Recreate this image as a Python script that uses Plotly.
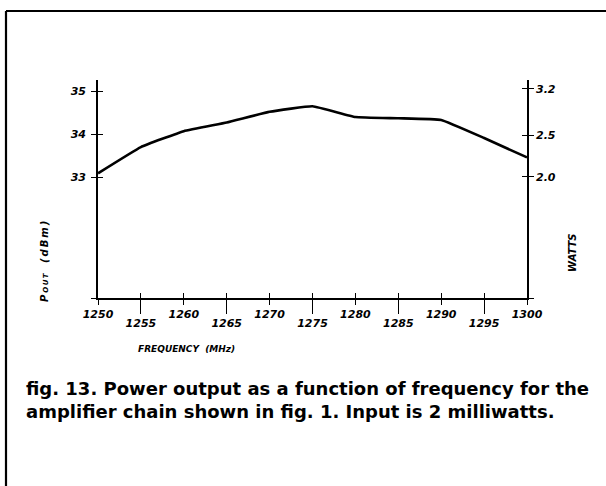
import math
import plotly.graph_objects as go

# Measured output power of the amplifier chain
freq_mhz = [1250, 1255, 1260, 1265, 1270, 1275, 1280, 1285, 1290, 1295, 1300]
pout_dbm = [33.09, 33.70, 34.07, 34.27, 34.52, 34.65, 34.40, 34.37, 34.33, 33.91, 33.46]

# Axis ticks
x_major = [1250, 1260, 1270, 1280, 1290, 1300]
x_minor = [1255, 1265, 1275, 1285, 1295]
dbm_ticks = [33, 34, 35]
watt_ticks = [2.0, 2.5, 3.2]
watt_labels = ["2.0", "2.5", "3.2"]

Y_MIN, Y_MAX = 30.19, 35.26
X_MIN, X_MAX = 1250, 1300


def watts_to_dbm(w):
    return 10 * math.log10(w * 1000.0)


watt_pos = [watts_to_dbm(w) for w in watt_ticks]

TICK_FONT = dict(family="DejaVu Sans", size=11, color="black", style="italic", weight="bold")
TITLE_FONT = dict(family="DejaVu Sans", size=9, color="black", style="italic", weight="bold")

fig = go.Figure()
fig.add_trace(go.Scatter(
    x=freq_mhz, y=pout_dbm, mode="lines",
    line=dict(color="black", width=2.6, shape="spline", smoothing=0.3),
    showlegend=False, hoverinfo="skip",
))
# empty traces so the overlaid tick axes are rendered
for xa, ya in [("x2", "y"), ("x3", "y"), ("x", "y2"), ("x", "y3"), ("x", "y4")]:
    fig.add_trace(go.Scatter(x=[None], y=[None], xaxis=xa, yaxis=ya,
                             showlegend=False, hoverinfo="skip"))

common_x = dict(range=[X_MIN, X_MAX], showgrid=False, zeroline=False)
common_y = dict(range=[Y_MIN, Y_MAX], showgrid=False, zeroline=False)

fig.update_layout(
    width=606, height=486,
    margin=dict(l=98, r=79, t=80, b=188),
    paper_bgcolor="white", plot_bgcolor="white",
    xaxis=dict(**common_x, showline=True, linecolor="black", linewidth=1.6,
               ticks="outside", ticklen=5, tickwidth=1.4, tickcolor="black",
               tickvals=x_major, ticktext=[str(v) for v in x_major],
               tickfont=TICK_FONT),
    xaxis2=dict(**common_x, overlaying="x", anchor="y", side="bottom",
                showline=False, ticks="outside", ticklen=15, tickwidth=1.4,
                tickcolor="black", tickvals=x_minor,
                ticktext=[str(v) for v in x_minor], tickfont=TICK_FONT),
    xaxis3=dict(**common_x, overlaying="x", anchor="y", side="bottom",
                showline=False, ticks="inside", ticklen=5, tickwidth=1.4,
                tickcolor="black", tickvals=x_major + x_minor,
                showticklabels=False),
    yaxis=dict(**common_y, showline=True, linecolor="black", linewidth=1.6,
               ticks="outside", ticklen=5, tickwidth=1.4, tickcolor="black",
               tickvals=dbm_ticks + [Y_MIN],
               ticktext=[str(v) for v in dbm_ticks] + [""],
               tickfont=TICK_FONT, ticklabelstandoff=3),
    yaxis2=dict(**common_y, overlaying="y", anchor="x", side="right",
                showline=True, linecolor="black", linewidth=1.6,
                ticks="outside", ticklen=5, tickwidth=1.4, tickcolor="black",
                tickvals=watt_pos + [Y_MIN], ticktext=watt_labels + [""],
                tickfont=TICK_FONT),
    yaxis3=dict(**common_y, overlaying="y", anchor="x", side="left",
                showline=False, ticks="inside", ticklen=5, tickwidth=1.4,
                tickcolor="black", tickvals=dbm_ticks, showticklabels=False),
    yaxis4=dict(**common_y, overlaying="y", anchor="x", side="right",
                showline=False, ticks="inside", ticklen=5, tickwidth=1.4,
                tickcolor="black", tickvals=watt_pos, showticklabels=False),
)


def px_to_paper_x(px):
    return (px - 98) / 429.0


def px_to_paper_y(py):
    return (298 - py) / 218.0


# page frame (top and left rules)
fig.add_shape(type="line", xref="paper", yref="paper",
              x0=px_to_paper_x(6), x1=px_to_paper_x(610),
              y0=px_to_paper_y(11), y1=px_to_paper_y(11),
              line=dict(color="black", width=2.2))
fig.add_shape(type="line", xref="paper", yref="paper",
              x0=px_to_paper_x(6), x1=px_to_paper_x(6),
              y0=px_to_paper_y(11), y1=px_to_paper_y(490),
              line=dict(color="black", width=2.2))

THIN = "\u2009"

# axis labels
fig.add_annotation(text="FREQUENCY  (MHz)",
                   xref="paper", yref="paper",
                   x=px_to_paper_x(186), y=px_to_paper_y(349),
                   xanchor="center", yanchor="middle",
                   showarrow=False, font=TITLE_FONT)
fig.add_annotation(text="P" + THIN + "<span style='font-size:7px'>"
                        + THIN.join("OUT") + "</span>   "
                        + THIN.join("(dBm)"),
                   xref="paper", yref="paper",
                   x=px_to_paper_x(44), y=px_to_paper_y(261), textangle=-90,
                   xanchor="center", yanchor="middle",
                   showarrow=False, font=dict(TITLE_FONT, size=10))
fig.add_annotation(text="WATTS", xref="paper", yref="paper",
                   x=px_to_paper_x(572), y=px_to_paper_y(253), textangle=-90,
                   xanchor="center", yanchor="middle",
                   showarrow=False, font=dict(TITLE_FONT, size=10))

# figure caption
fig.add_annotation(
    text="<b>fig. 13. Power output as a function of frequency for the<br>"
         "amplifier chain shown in fig. 1. Input is 2 milliwatts.</b>",
    xref="paper", yref="paper", x=px_to_paper_x(24), y=px_to_paper_y(376),
    xanchor="left", yanchor="top", align="left", showarrow=False,
    font=dict(family="DejaVu Sans", size=18, color="black"),
)

fig.write_html("out.html")
